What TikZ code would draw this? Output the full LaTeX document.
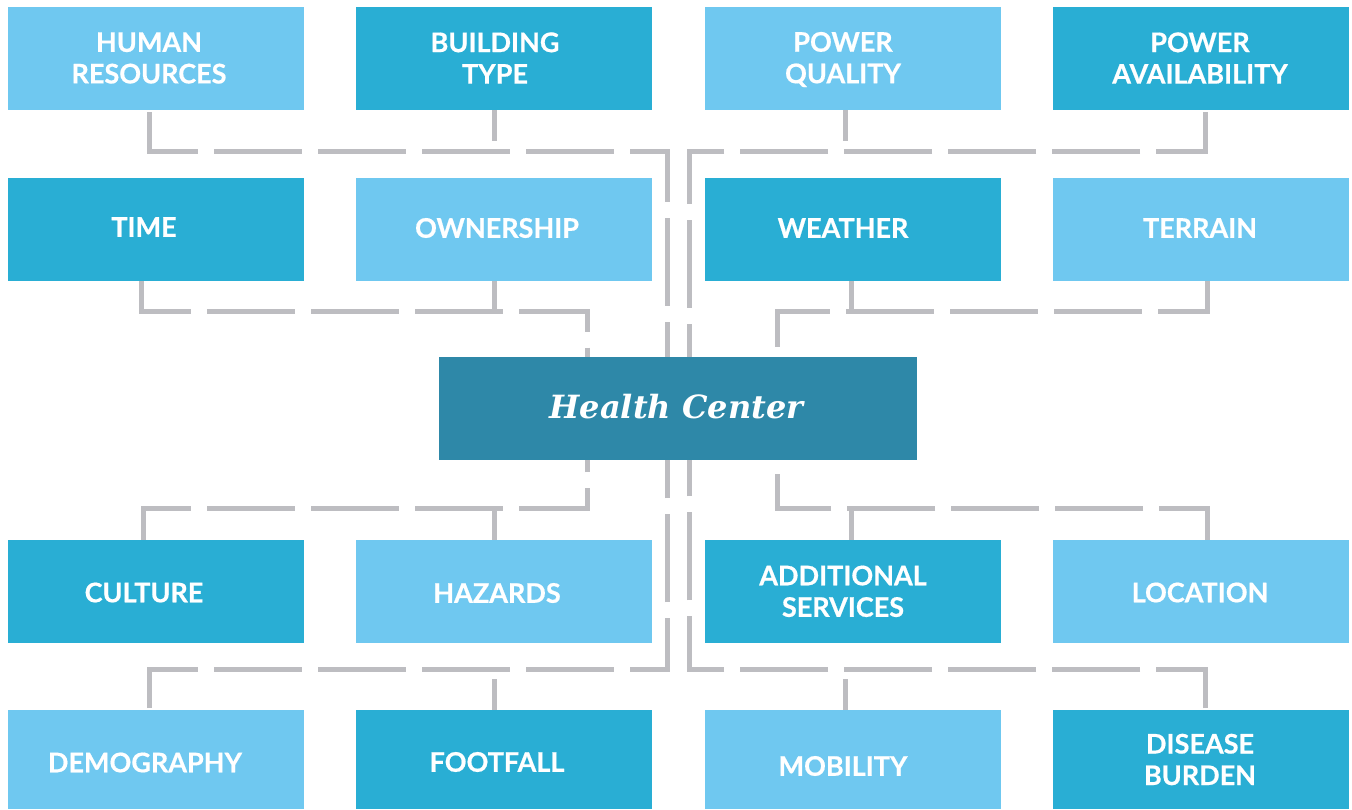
\documentclass[tikz,border=0pt]{standalone}
\usepackage{fontspec}
\usetikzlibrary{backgrounds}
\newfontfamily\lblfont{Lato}[BoldFeatures={FakeBold=0.6}]
\newfontfamily\hcfont{DejaVu Serif}
\definecolor{lightB}{HTML}{6FC8F0}
\definecolor{midB}{HTML}{29AED4}
\definecolor{centerB}{HTML}{2E88A8}
\definecolor{lineG}{HTML}{BDBDC1}
\tikzset{
  boxbase/.style={anchor=north west, inner sep=0pt, outer sep=0pt, minimum width=296pt},
  lbox/.style={boxbase, fill=lightB},
  mbox/.style={boxbase, fill=midB},
  lbl/.style={text=white, inner sep=0pt, align=center, font=\lblfont\bfseries\fontsize{27}{31.5}\selectfont},
  conn/.style={draw=lineG, line width=5pt, dash pattern=on 88pt off 16pt},
  conn8/.style={conn, dash phase=8pt},
  stub/.style={draw=lineG, line width=5pt},
}
\begin{document}
\begin{tikzpicture}[x=1pt,y=-1pt]
\useasboundingbox (0,0) rectangle (1352,809);

% boxes
\node[lbox, minimum height=103pt] (hr) at (8,7) {};
\node[mbox, minimum height=103pt] (bt) at (356,7) {};
\node[lbox, minimum height=103pt] (pq) at (705,7) {};
\node[mbox, minimum height=103pt] (pa) at (1053,7) {};

\node[mbox, minimum height=103pt] (tm) at (8,178) {};
\node[lbox, minimum height=103pt] (ow) at (356,178) {};
\node[mbox, minimum height=103pt] (we) at (705,178) {};
\node[lbox, minimum height=103pt] (te) at (1053,178) {};

\node[anchor=north west, inner sep=0pt, outer sep=0pt, minimum width=478pt, minimum height=103pt, fill=centerB] (hc) at (439,357) {};

\node[mbox, minimum height=103pt] (cu) at (8,540) {};
\node[lbox, minimum height=103pt] (hz) at (356,540) {};
\node[mbox, minimum height=103pt] (as) at (705,540) {};
\node[lbox, minimum height=103pt] (lo) at (1053,540) {};

\node[lbox, minimum height=99pt] (de) at (8,710) {};
\node[mbox, minimum height=99pt] (ff) at (356,710) {};
\node[lbox, minimum height=99pt] (mo) at (705,710) {};
\node[mbox, minimum height=99pt] (db) at (1053,710) {};

% connectors (beneath boxes)
\begin{scope}[on background layer]
\fill[white] (0,0) rectangle (1352,809);

\draw[conn] ([xshift=-7pt,yshift=-2pt]hr.south) -- ++(0,39) -| ([xshift=-11pt]hc.north);
\draw[stub] ([xshift=-9.5pt]bt.south) -- ++(0,31);
\draw[stub] ([xshift=-8pt]pq.south) -- ++(0,31);
\draw[conn] ([xshift=4pt,yshift=-2pt]pa.south) -- ++(0,39) -| ([xshift=11pt]hc.north);

\draw[conn8] ([xshift=-14.5pt]tm.south) -- ++(0,30.5) -| ([xshift=-91pt]hc.north);
\draw[stub] ([xshift=-9.5pt]ow.south) -- ++(0,30.5);
\draw[stub] ([xshift=-1.5pt]we.south) -- ++(0,30.5);
\draw[conn8] ([xshift=6pt]te.south) -- ++(0,30.5) -| ([xshift=99pt]hc.north);

\draw[conn8] ([xshift=-13pt]cu.north) -- ++(0,-32) -| ([xshift=-91pt]hc.south);
\draw[stub] ([xshift=-9.5pt]hz.north) -- ++(0,-32);
\draw[stub] ([xshift=-1.5pt]as.north) -- ++(0,-32);
\draw[conn8] ([xshift=6pt]lo.north) -- ++(0,-32) -| ([xshift=99pt]hc.south);

\draw[conn] ([xshift=-7pt,yshift=2pt]de.north) -- ++(0,-39) -| ([xshift=-11pt]hc.south);
\draw[stub] ([xshift=-9.5pt]ff.north) -- ++(0,-31);
\draw[stub] ([xshift=-8pt]mo.north) -- ++(0,-31);
\draw[conn] ([xshift=4pt,yshift=2pt]db.north) -- ++(0,-39) -| ([xshift=11pt]hc.south);
\end{scope}

% labels
\node[lbl] (hrT) at (149,58) {HUMAN\\RESOURCES};
\node[lbl] (btT) at (495,58) {BUILDING\\TYPE};
\node[lbl] (pqT) at (843,59.5) {POWER\\QUALITY};
\node[lbl] (paT) at (1200,58) {POWER\\AVAILABILITY};

\node[lbl] (tmT) at (144,227) {TIME};
\node[lbl] (owT) at (497,228) {OWNERSHIP};
\node[lbl] (weT) at (843,228) {WEATHER};
\node[lbl] (teT) at (1200,228) {TERRAIN};

\node[text=white, inner sep=0pt, font=\hcfont\bfseries\itshape\fontsize{32}{38}\selectfont] (hcT) at (676.5,406.5) {Health Center};

\node[lbl] (cuT) at (144,592.5) {CULTURE};
\node[lbl] (hzT) at (497,593) {HAZARDS};
\node[lbl] (asT) at (843,591.3) {ADDITIONAL\\SERVICES};
\node[lbl] (loT) at (1200,592.5) {LOCATION};

\node[lbl] (deT) at (145,762.5) {DEMOGRAPHY};
\node[lbl] (ffT) at (497,762) {FOOTFALL};
\node[lbl] (moT) at (843,766) {MOBILITY};
\node[lbl] (dbT) at (1200,759.5) {DISEASE\\BURDEN};
\end{tikzpicture}
\end{document}
